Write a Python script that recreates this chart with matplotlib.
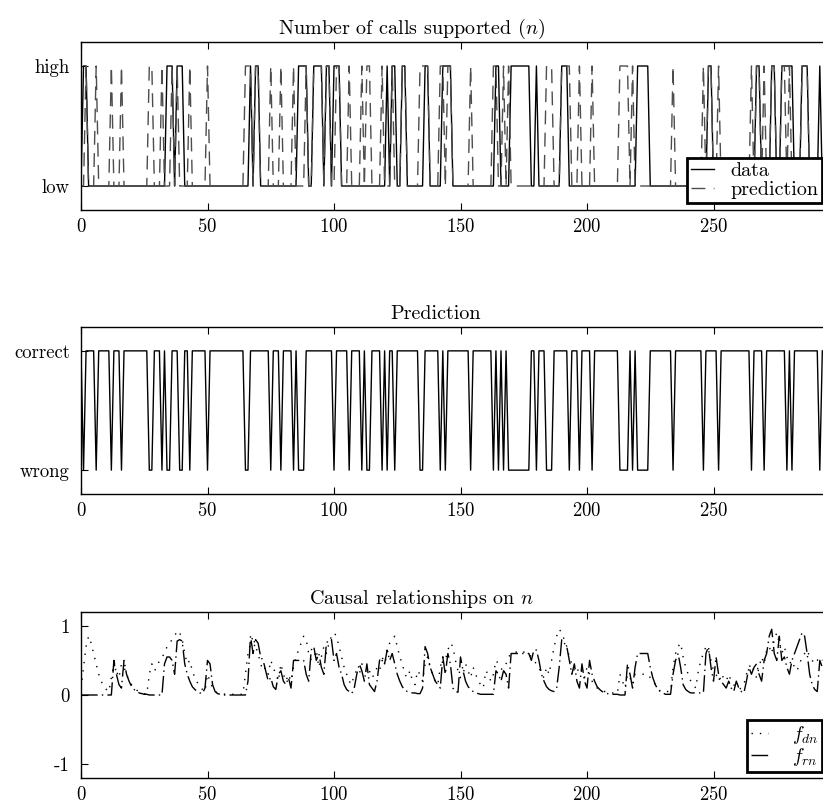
import matplotlib
matplotlib.use('Agg')
import matplotlib.pyplot as plt
import numpy as np

plt.rcParams['font.family'] = 'cmr10'
plt.rcParams['mathtext.fontset'] = 'cm'
plt.rcParams['axes.unicode_minus'] = False
plt.rcParams['axes.formatter.use_mathtext'] = True

N = 294

# indices where the number of supported calls is "high"
n_high = [1, 2, 34, 35, 36, 38, 39, 40, 67, 69, 70, 86, 87, 88, 89, 92, 93, 94, 95,
          97, 98, 100, 101, 102, 121, 123, 124, 127, 128,
          136, 137, 143, 144, 145, 146, 164, 165, 170, 171, 172, 173, 174, 175, 176, 177,
          180, 190, 191, 192, 220, 221, 222, 223, 224, 248, 249, 267, 268, 273, 274,
          277, 278, 279, 280, 281, 285, 286, 287, 292]

# indices where the prediction was wrong
wrong_idx = [1, 6, 12, 16, 27, 28, 32, 34, 35, 39, 40, 43, 50, 65, 66, 75, 79, 84, 86, 87, 88,
             100, 106, 111, 113, 114, 119, 121, 124,
             134, 135, 142, 144, 154, 163, 165, 167, 169, 170, 171, 172, 173, 174, 175, 176, 177,
             180, 184, 185, 186, 193, 197, 202, 213, 214, 215, 216, 218, 220, 221, 222, 223, 224,
             234, 246, 252, 265, 270, 279, 281, 292]

f_rn = [0, 0, 0, 0, 0, 0, 0, 0, 0, 0,
        0, 0, 0, 0.5, 0.3, 0.15, 0.1, 0.5, 0.3, 0.2,
        0.12, 0.08, 0.05, 0.03, 0.02, 0.01, 0.01, 0, 0, 0,
        0, 0, 0, 0.45, 0.55, 0.55, 0.5, 0.3, 0.78, 0.8,
        0.78, 0.45, 0.3, 0.2, 0.12, 0.08, 0.05, 0.03, 0.02, 0.1,
        0.5, 0.45, 0.15, 0.05, 0.02, 0.01, 0, 0, 0, 0,
        0, 0, 0, 0, 0, 0, 0.2, 0.85, 0.6, 0.8,
        0.75, 0.55, 0.5, 0.35, 0.2, 0.25, 0.12, 0.08, 0.3, 0.35,
        0.2, 0.15, 0.25, 0.1, 0.5, 0.5, 0.5, 0.5, 0.5, 0.3,
        0.2, 0.65, 0.7, 0.5, 0.6, 0.4, 0.3, 0.75, 0.8, 0.8,
        0.5, 0.6, 0.4, 0.3, 0.15, 0.08, 0.05, 0.02, 0.1, 0.3,
        0.45, 0.35, 0.2, 0.45, 0.15, 0.1, 0.05, 0.2, 0.5, 0.55,
        0.45, 0.65, 0.5, 0.6, 0.45, 0.3, 0.2, 0.12, 0.07, 0.05,
        0.04, 0.03, 0.03, 0.02, 0.02, 0.1, 0.7, 0.6, 0.4, 0.3,
        0.2, 0.15, 0.1, 0.55, 0.3, 0.6, 0.45, 0.1, 0.05, 0.04,
        0.55, 0.35, 0.2, 0.12, 0.08, 0.05, 0.03, 0.02, 0.01, 0.01,
        0.01, 0.01, 0.01, 0.01, 0.35, 0.3, 0.2, 0.35, 0.3, 0.1,
        0.6, 0.6, 0.6, 0.6, 0.6, 0.6, 0.6, 0.6, 0.5, 0.65,
        0.65, 0.5, 0.3, 0.2, 0.12, 0.08, 0.06, 0.05, 0.1, 0.4,
        0.8, 0.75, 0.7, 0.5, 0.3, 0.45, 0.2, 0.1, 0.45, 0.2,
        0.1, 0.5, 0.3, 0.2, 0.12, 0.08, 0.05, 0.03, 0.02, 0.02,
        0.01, 0.01, 0.01, 0, 0, 0, 0.45, 0.3, 0.1, 0.4,
        0.6, 0.6, 0.6, 0.6, 0.6, 0.4, 0.25, 0.15, 0.08, 0.05,
        0.03, 0.01, 0.01, 0.01, 0.3, 0.5, 0.6, 0.4, 0.15, 0.08,
        0.05, 0.03, 0.03, 0.03, 0.03, 0.03, 0.03, 0.6, 0.7, 0.4,
        0.2, 0.55, 0.3, 0.2, 0.15, 0.1, 0.2, 0.1, 0.05, 0.2,
        0.1, 0.05, 0.03, 0.2, 0.4, 0.3, 0.4, 0.45, 0.3, 0.2,
        0.5, 0.6, 0.85, 0.95, 0.6, 0.5, 0.85, 0.5, 0.55, 0.4,
        0.3, 0.5, 0.6, 0.7, 0.8, 0.9, 0.85, 0.6, 0.3, 0.15,
        0.08, 0.05, 0.5, 0.4]

f_dn = [0.1, 0.4, 0.7, 0.85, 0.75, 0.6, 0.45, 0.3, 0.2, 0.12,
        0.08, 0.05, 0.25, 0.45, 0.35, 0.25, 0.45, 0.4, 0.3, 0.2,
        0.15, 0.1, 0.07, 0.05, 0.03, 0.02, 0.01, 0.3, 0.45, 0.35,
        0.4, 0.5, 0.55, 0.6, 0.7, 0.75, 0.8, 0.85, 0.93, 0.9,
        0.8, 0.6, 0.45, 0.5, 0.35, 0.25, 0.18, 0.12, 0.08, 0.05,
        0.3, 0.2, 0.1, 0.05, 0.03, 0.02, 0.02, 0.01, 0.01, 0.01,
        0.01, 0.01, 0.01, 0.01, 0.01, 0.3, 0.6, 0.75, 0.85, 0.7,
        0.6, 0.45, 0.35, 0.4, 0.3, 0.5, 0.4, 0.3, 0.2, 0.45,
        0.3, 0.2, 0.3, 0.2, 0.4, 0.55, 0.65, 0.75, 0.85, 0.8,
        0.6, 0.5, 0.55, 0.65, 0.4, 0.55, 0.7, 0.6, 0.75, 0.85,
        0.9, 0.85, 0.7, 0.55, 0.4, 0.3, 0.2, 0.15, 0.3, 0.35,
        0.3, 0.45, 0.4, 0.3, 0.35, 0.25, 0.3, 0.4, 0.35, 0.5,
        0.45, 0.6, 0.75, 0.8, 0.85, 0.7, 0.55, 0.45, 0.3, 0.25,
        0.35, 0.2, 0.15, 0.35, 0.3, 0.2, 0.45, 0.55, 0.4, 0.3,
        0.2, 0.15, 0.4, 0.55, 0.5, 0.65, 0.75, 0.7, 0.5, 0.35,
        0.25, 0.3, 0.45, 0.35, 0.25, 0.4, 0.3, 0.2, 0.15, 0.1,
        0.35, 0.3, 0.2, 0.3, 0.5, 0.45, 0.4, 0.3, 0.45, 0.55,
        0.6, 0.62, 0.62, 0.62, 0.6, 0.62, 0.62, 0.6, 0.55, 0.5,
        0.45, 0.4, 0.3, 0.25, 0.4, 0.3, 0.5, 0.7, 0.85, 0.95,
        0.9, 0.8, 0.7, 0.55, 0.45, 0.35, 0.4, 0.3, 0.35, 0.25,
        0.4, 0.3, 0.2, 0.15, 0.1, 0.08, 0.06, 0.05, 0.04, 0.03,
        0.03, 0.02, 0.02, 0.3, 0.2, 0.1, 0.3, 0.25, 0.15, 0.3,
        0.3, 0.3, 0.3, 0.3, 0.3, 0.25, 0.2, 0.15, 0.1, 0.05,
        0.05, 0.05, 0.05, 0.05, 0.4, 0.6, 0.7, 0.75, 0.55, 0.4,
        0.3, 0.2, 0.15, 0.1, 0.35, 0.5, 0.6, 0.7, 0.65, 0.5,
        0.35, 0.3, 0.2, 0.3, 0.25, 0.2, 0.3, 0.2, 0.15, 0.1,
        0.08, 0.1, 0.15, 0.3, 0.4, 0.45, 0.35, 0.25, 0.4, 0.55,
        0.45, 0.65, 0.7, 0.6, 0.8, 0.9, 0.75, 0.6, 0.7, 0.55,
        0.45, 0.5, 0.4, 0.35, 0.45, 0.55, 0.6, 0.65, 0.55, 0.5,
        0.45, 0.5, 0.55, 0.5]

x = np.arange(N)
n_data = np.zeros(N)
n_data[n_high] = 1
correct = np.ones(N)
correct[wrong_idx] = 0
# the prediction differs from the data exactly where it was wrong
prediction = np.where(correct == 1, n_data, 1 - n_data)

fig = plt.figure(figsize=(8.23, 8.06), dpi=100)
W = 756.5 / 823
L = 81 / 823
ax1 = fig.add_axes([L, 596 / 806, W, 168 / 806])
ax2 = fig.add_axes([L, 312 / 806, W, 167 / 806])
ax3 = fig.add_axes([L, 28 / 806, W, 166 / 806])

tick_fs = 13.5
for ax in (ax1, ax2, ax3):
    ax.set_xlim(0, 299)
    ax.set_xticks([0, 50, 100, 150, 200, 250])
    ax.tick_params(direction='in', top=True, right=True, length=5, width=0.8,
                   labelsize=tick_fs)
    ax.tick_params(axis='x', pad=6)
    ax.tick_params(axis='y', pad=8)
    for s in ax.spines.values():
        s.set_linewidth(1.0)

# top panel
ax1.plot(x, n_data, color='black', lw=1.0, label='data')
ax1.plot(x, prediction, color='0.3', lw=1.0, dashes=(10, 6), label='prediction')
ax1.set_ylim(-0.2, 1.2)
ax1.set_yticks([0, 1])
ax1.set_yticklabels(['low', 'high'])
ax1.set_title('Number of calls supported ($n$)', fontsize=14.5, pad=6, x=0.4376)
leg1 = ax1.legend(loc='lower right', bbox_to_anchor=(0.9795, 0.042), borderaxespad=0,
                  fontsize=14.5, handlelength=1.15, handletextpad=0.8, labelspacing=0.05,
                  borderpad=0.2, fancybox=False, framealpha=1, edgecolor='black')
leg1.get_frame().set_linewidth(2)

# middle panel
ax2.plot(x, correct, color='black', lw=1.0)
ax2.set_ylim(-0.2, 1.2)
ax2.set_yticks([0, 1])
ax2.set_yticklabels(['wrong', 'correct'])
ax2.set_title('Prediction', fontsize=14.5, pad=6, x=0.4693)

# bottom panel
ax3.plot(x, f_dn, color='black', lw=1.0, dashes=(1, 5), label='$f_{dn}$')
ax3.plot(x, f_rn, color='black', lw=1.0, dashes=(12, 3, 1, 3), label='$f_{rn}$')
ax3.set_ylim(-1.2, 1.2)
ax3.set_yticks([-1, 0, 1])
ax3.set_yticklabels(['-1', '0', '1'])
ax3.set_title('Causal relationships on $n$', fontsize=14.5, pad=6, x=0.4508)
leg3 = ax3.legend(loc='lower right', bbox_to_anchor=(0.9795, 0.036), borderaxespad=0,
                  fontsize=14, handlelength=0.9, handletextpad=1.2, labelspacing=0.0,
                  borderpad=0.2, fancybox=False, framealpha=1, edgecolor='black')
leg3.get_frame().set_linewidth(2)

fig.savefig('out.png', dpi=100)
